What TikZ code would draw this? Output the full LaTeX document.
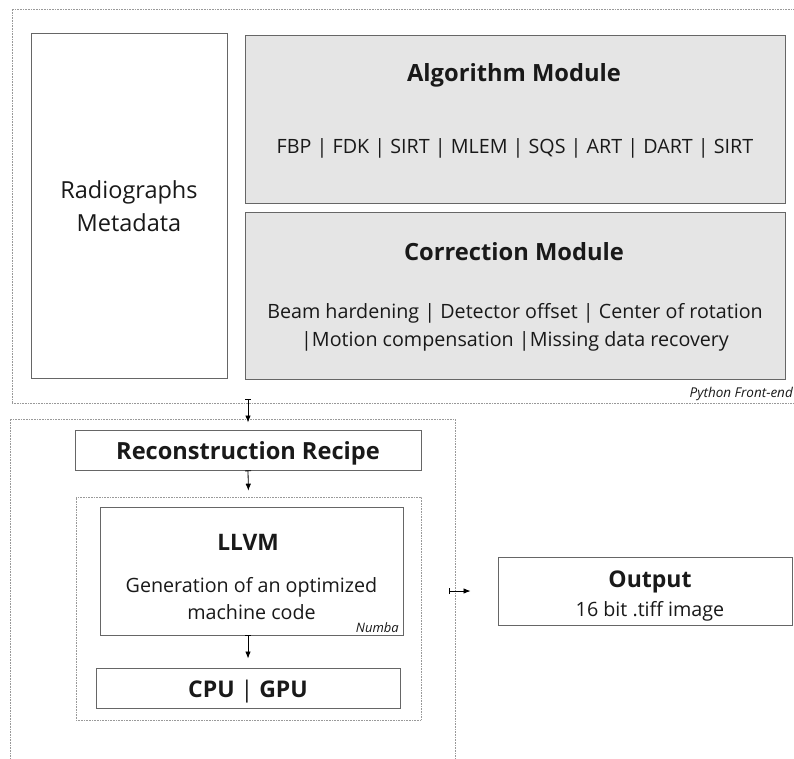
\documentclass[tikz,border=0pt]{standalone}
\usepackage{fontspec}
\setmainfont{Open Sans}
\usetikzlibrary{arrows.meta}

\tikzset{
  box/.style={draw=black!60, line width=0.9pt, inner sep=0pt},
  greybox/.style={box, fill=black!10},
  frame/.style={draw=black!40, densely dotted, line width=0.6pt, inner sep=0pt},
  flow/.style={line width=0.8pt, {Bar[width=6pt]}-{Latex[length=7pt,width=5.5pt]}},
  txt/.style={anchor=base, inner sep=0pt, text=black!90},
  fs/.style={font=\fontsize{#1}{#1}\selectfont},
  fb/.style={font=\fontsize{#1}{#1}\selectfont\bfseries},
  fi/.style={font=\fontsize{#1}{#1}\selectfont\itshape},
}

\begin{document}
\begin{tikzpicture}[x=1pt,y=-1pt]
\useasboundingbox (0,0) rectangle (794,759);
\clip (0,0) rectangle (794,759);

% --- Python front-end -------------------------------------------------
\node[frame, minimum width=800pt, minimum height=394pt] (front) at (412,206) {};
\node[box, fill=white, minimum width=196pt, minimum height=345pt] (radio) at (129,205.5) {};
\node[greybox, minimum width=540pt, minimum height=168pt] (algo) at (515,119) {};
\node[greybox, minimum width=540pt, minimum height=167pt] (corr) at (515,295.5) {};

\node[txt, fs=23.5] (radiotxt) at (129,199) {Radiographs};
\node[txt, fs=23.5] (metatxt) at (129,232) {Metadata};

\node[txt, fb=23.7] (algotitle) at (514,82) {Algorithm Module};
\node[txt, fs=19.7] (algolist) at (515,154) {FBP | FDK | SIRT | MLEM | SQS | ART | DART | SIRT};

\node[txt, fb=23.7] (corrtitle) at (514,260) {Correction Module};
\node[txt, fs=19.7] (corrA) at (515,318) {Beam hardening | Detector offset | Center of rotation};
\node[txt, fs=19.7] (corrB) at (515,346) {|Motion compensation |Missing data recovery};

\node[txt, fi=13.5, anchor=base east] (pytxt) at (793,397) {Python Front-end};

% --- Back-end -----------------------------------------------------------
\node[frame, minimum width=445pt, minimum height=360pt] (back) at (232.5,599) {};
\node[box, fill=white, minimum width=346pt, minimum height=40pt] (recipe) at (248,450) {};
\node[txt, fb=23.6] (recipetxt) at (248,459) {Reconstruction Recipe};

\node[frame, minimum width=345pt, minimum height=223pt] (numba) at (248.5,608.5) {};
\node[box, fill=white, minimum width=303pt, minimum height=128pt] (llvm) at (251.5,571) {};
\node[txt, fb=22.7] (llvmtitle) at (248,550) {LLVM};
\node[txt, fs=19.7] (llvmA) at (251.5,592) {Generation of an optimized};
\node[txt, fs=19.7] (llvmB) at (251.5,619) {machine code};
\node[txt, fi=13, anchor=base east] (numbatxt) at (399,632) {Numba};

\node[box, fill=white, minimum width=304pt, minimum height=40pt] (cpu) at (248,688) {};
\node[txt, fb=23] (cputxt) at (248,697) {CPU {\mdseries|} GPU};

% --- Output ---------------------------------------------------------------
\node[box, fill=white, minimum width=294pt, minimum height=68pt] (out) at (645,591) {};
\node[txt, fb=23] (outtitle) at (650,587) {Output};
\node[txt, fs=19.7] (outsub) at (650,616) {16 bit .tiff image};

% --- Connectors -------------------------------------------------------------
\draw[flow, shorten <=-4pt, shorten >=7pt] (front.south -| recipe.north) -- (recipe.north);
\draw[flow, shorten >=6pt] (recipe.south) -- (numba.north);
\draw[flow, shorten >=9pt] (llvm.south -| cpu.north) -- (cpu.north);
\draw[flow, shorten <=-6pt, shorten >=27pt] (back.east |- out.west) -- (out.west);
\end{tikzpicture}
\end{document}
